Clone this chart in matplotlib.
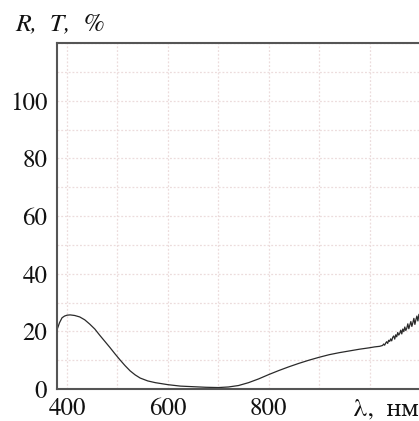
import numpy as np
import matplotlib.pyplot as plt
from matplotlib.ticker import MultipleLocator

# spectrum
wl = [380, 385, 390, 395, 400, 406, 415, 425, 435, 445, 455, 465, 475, 485, 495,
      505, 515, 525, 535, 545, 560, 575, 600, 625, 650, 675, 700, 720, 740, 760,
      780, 800, 820, 840, 860, 880, 900, 920, 940, 960, 980, 1000, 1010, 1020, 1024,
      1026, 1028, 1030, 1032, 1034, 1036, 1038, 1040, 1042, 1044, 1046, 1048, 1050,
      1052, 1054, 1056, 1058, 1060, 1062, 1064, 1066, 1068, 1070, 1072, 1074, 1076,
      1078, 1080, 1082, 1084, 1086, 1088, 1090, 1092, 1094, 1096, 1098, 1100]
val = [20.5, 23.0, 24.7, 25.3, 25.6, 25.7, 25.5, 25.0, 24.0, 22.5, 20.8, 18.6, 16.5, 14.4, 12.2,
       10.1, 8.1, 6.3, 4.9, 3.8, 2.8, 2.2, 1.5, 1.0, 0.8, 0.6, 0.5, 0.7, 1.2, 2.2,
       3.5, 5.0, 6.4, 7.7, 8.9, 10.0, 11.0, 11.9, 12.6, 13.2, 13.8, 14.3, 14.6, 14.8, 15.0,
       15.1, 15.6, 15.2, 15.9, 16.4, 15.8, 16.9, 16.5, 17.4, 16.7, 17.9, 18.4, 17.3,
       18.8, 18.1, 19.6, 18.7, 19.3, 20.4, 19.1, 20.8, 19.9, 21.5, 20.3, 21.1, 22.6,
       20.9, 22.2, 23.4, 21.7, 23.0, 24.5, 22.4, 24.0, 25.3, 23.6, 25.9, 24.8]

xticks = [400, 600, 800]
yticks = [0, 20, 40, 60, 80, 100]

plt.rcParams['font.family'] = ['TeX Gyre Termes', 'STIX Two Text', 'STIXGeneral', 'DejaVu Serif']

fig = plt.figure(figsize=(4.19, 4.21), dpi=100)
ax = fig.add_axes([57 / 419, 32 / 421, 373 / 419, 346 / 421])

ax.plot(wl, val, color='#2a2a2a', lw=0.9)

ax.set_xlim(380, 1120)
ax.set_ylim(0, 120)
ax.xaxis.set_minor_locator(MultipleLocator(100))
ax.yaxis.set_minor_locator(MultipleLocator(10))
ax.set_xticks(xticks)
ax.set_yticks(yticks)
ax.tick_params(which='both', length=0, labelsize=18, colors='#111')
ax.tick_params(axis='x', pad=6)
ax.tick_params(axis='y', pad=7)
ax.grid(which='both', color='#ecdcdc', lw=0.9, ls=(0, (1.5, 1.5)))

for s in ['left', 'bottom', 'top']:
    ax.spines[s].set_color('#555555')
    ax.spines[s].set_linewidth(1.5)
ax.spines['right'].set_visible(False)

ax.text(968, -0.024, 'λ,  нм', transform=ax.get_xaxis_transform(),
        ha='left', va='top', fontsize=18, color='#111')
fig.text(15 / 419, 1 - 35 / 421, 'R,  T,  %', fontsize=18.5, style='italic',
         ha='left', va='bottom', color='#111')

plt.savefig('out.png', dpi=100)
